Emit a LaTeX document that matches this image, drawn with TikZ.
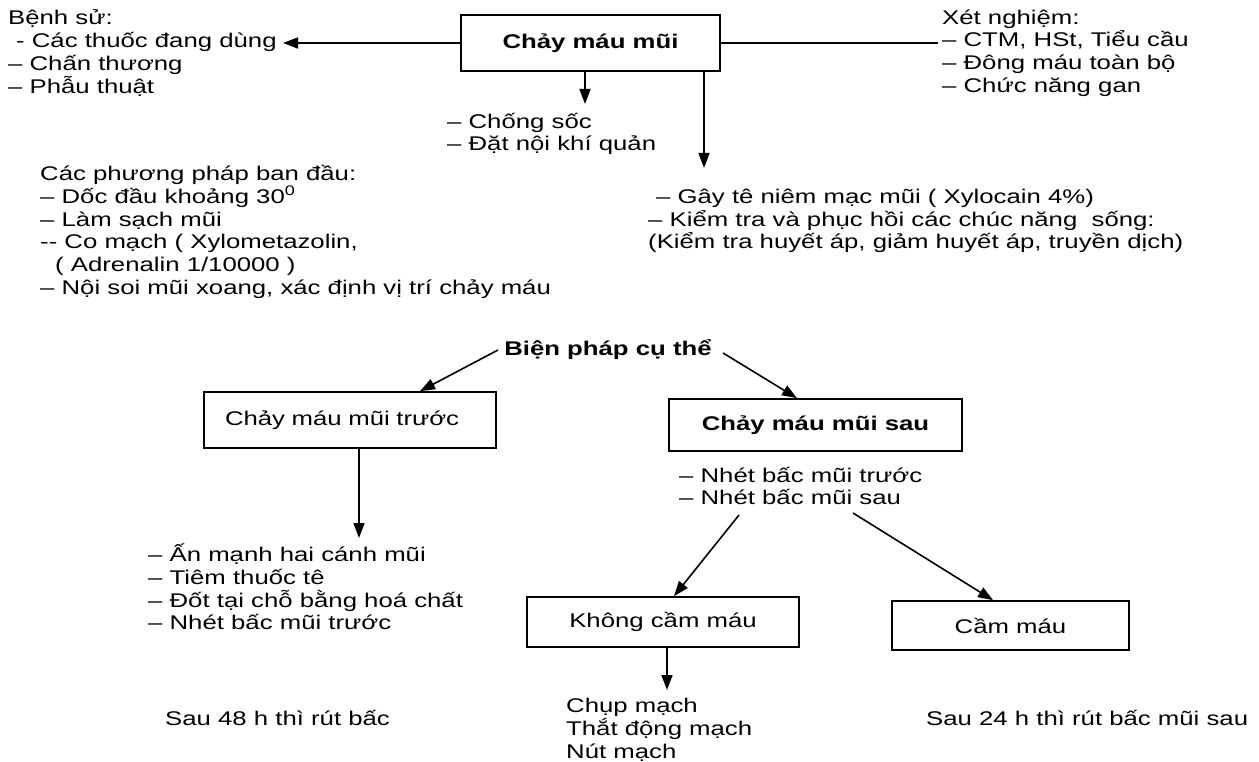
\documentclass[tikz,border=0pt]{standalone}
\usepackage{fontspec}
\setmainfont{Liberation Sans}[FakeStretch=1.3]
\usetikzlibrary{arrows.meta}
\begin{document}
\begin{tikzpicture}[x=1pt,y=-1pt,
  txt/.style={inner sep=0pt, font=\fontsize{19.8}{22.8}\selectfont, align=left},
  btxt/.style={inner sep=0pt, font=\fontsize{19.8}{22.8}\selectfont\bfseries},
  boxst/.style={draw, line width=1.7pt, inner sep=0pt, font=\fontsize{19.8}{22.8}\selectfont},
  conn/.style={line width=1.6pt},
  arr/.style={conn, -{Triangle[length=15pt,width=11pt]}}]
\useasboundingbox[fill=white] (0,0) rectangle (1259,762);

% boxes
\node[boxst, minimum width=259pt, minimum height=56pt, font=\fontsize{19.8}{22.8}\selectfont\bfseries] (main) at (590.5,43) {Chảy máu mũi};
\node[boxst, minimum width=292pt, minimum height=56pt, text width=250pt, align=left, inner xsep=21pt] (lb) at (350,420) {Chảy máu mũi trước};
\node[boxst, minimum width=293pt, minimum height=52pt, font=\fontsize{19.8}{22.8}\selectfont\bfseries] (rb) at (815.5,425) {Chảy máu mũi sau};
\node[boxst, minimum width=272pt, minimum height=50pt] (kc) at (663,622) {Không cầm máu};
\node[boxst, minimum width=237pt, minimum height=49pt] (cm) at (1010.5,625.5) {Cầm máu};

% text blocks
\node[txt, anchor=west] (bs) at (8,53) {Bệnh sử:\\\hspace{8pt}- Các thuốc đang dùng\\– Chấn thương\\– Phẫu thuật};
\node[txt, anchor=west] (xn) at (942,53) {Xét nghiệm:\\– CTM, HSt, Tiểu cầu\\– Đông máu toàn bộ\\– Chức năng gan};
\node[txt, anchor=west] (cs) at (447,134) {– Chống sốc\\– Đặt nội khí quản};
\node[txt, anchor=west] (pp) at (40,232) {Các phương pháp ban đầu:\\– Dốc đầu khoảng 30\textsuperscript{0}\\– Làm sạch mũi\\-{}- Co mạch ( Xylometazolin,\\\hspace{15pt}( Adrenalin 1/10000 )\\– Nội soi mũi xoang, xác định vị trí chảy máu};
\node[txt, anchor=west] (gt) at (648,221) {\hspace{8pt}– Gây tê niêm mạc mũi ( Xylocain 4\%)\\– Kiểm tra và phục hồi các chúc năng\ \ sống:\\(Kiểm tra huyết áp, giảm huyết áp, truyền dịch)};
\node[btxt] (bp) at (608,350) {Biện pháp cụ thể};
\node[txt, anchor=west] (nb) at (679,486) {– Nhét bấc mũi trước\\– Nhét bấc mũi sau};
\node[txt, anchor=west] (al) at (148,587) {– Ấn mạnh hai cánh mũi\\– Tiêm thuốc tê\\– Đốt tại chỗ bằng hoá chất\\– Nhét bấc mũi trước};
\node[txt, anchor=west] (s48) at (165,718) {Sau 48 h thì rút bấc};
\node[txt, anchor=west] (cp) at (566,730) {Chụp mạch\\Thắt động mạch\\Nút mạch};
\node[txt, anchor=west] (s24) at (926,718) {Sau 24 h thì rút bấc mũi sau};

% connector end points
\coordinate (bsend) at (283,43);
\coordinate (xnend) at (938,43);
\coordinate (cstip) at (585,104);
\coordinate (gttip) at (704,168);
\coordinate (bpl) at (498,350);
\coordinate (bpr) at (723,353);
\coordinate (lbtop) at (420,0);
\coordinate (rbtop) at (797,0);
\coordinate (lbd) at (359,538);
\coordinate (nbl) at (739,515);
\coordinate (nbr) at (853,513);
\coordinate (kctop) at (674,0);
\coordinate (cmtop) at (993,0);
\coordinate (kcd) at (667,690);

% connectors
\draw[arr] (main.west) -- (bsend);
\draw[conn] (main.east) -- (xnend);
\draw[arr] (main.south -| cstip) -- (cstip);
\draw[arr] (main.south -| gttip) -- (gttip);
\draw[arr] (bpl) -- (lb.north -| lbtop);
\draw[arr] (bpr) -- (rb.north -| rbtop);
\draw[arr] (lb.south -| lbd) -- (lbd);
\draw[arr] (nbl) -- (kc.north -| kctop);
\draw[arr] (nbr) -- (cm.north -| cmtop);
\draw[arr] (kc.south -| kcd) -- (kcd);
\end{tikzpicture}
\end{document}
